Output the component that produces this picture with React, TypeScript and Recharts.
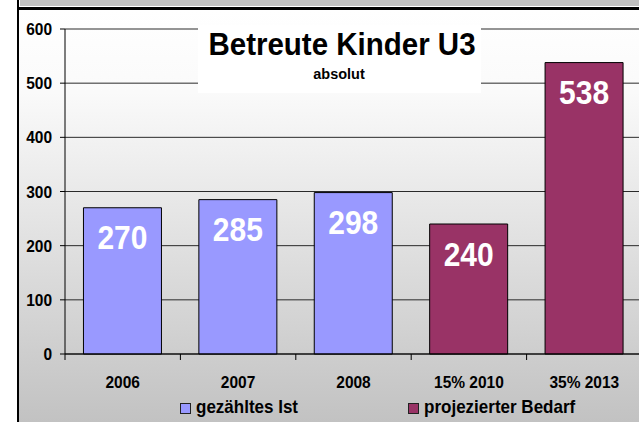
import React from 'react';
import { BarChart, Bar, XAxis, YAxis, CartesianGrid, Legend, LabelList } from 'recharts';

const categories = ['2006', '2007', '2008', '15% 2010', '35% 2013'];
const istValues: (number | null)[] = [270, 285, 298, null, null];
const bedarfValues: (number | null)[] = [null, null, null, 240, 538];
const yTicks = [0, 100, 200, 300, 400, 500, 600];
const seriesNames = ['gezähltes Ist', 'projezierter Bedarf'];
const titleText = 'Betreute Kinder U3';
const subtitleText = 'absolut';

const data = categories.map((c, i) => ({ cat: c, ist: istValues[i], bedarf: bedarfValues[i] }));

const FONT = '"Liberation Sans", Arial, sans-serif';
const SY = 1.08;

const YTick = (props: any) => {
  const { x, y, payload } = props;
  return (
    <g transform={`translate(${x},${y}) scale(1,${SY})`}>
      <text x={0} y={0} dy="0.36em" textAnchor="end" fontFamily={FONT} fontWeight="bold" fontSize={15.5} fill="#000">
        {payload.value}
      </text>
    </g>
  );
};

const XTick = (props: any) => {
  const { x, y, payload, index } = props;
  const off = payload.offset || 0;
  return (
    <g>
      <line x1={x - off} x2={x - off} y1={y} y2={y + 6} stroke="#000" strokeWidth={1} />
      {index === categories.length - 1 && (
        <line x1={x + off} x2={x + off} y1={y} y2={y + 6} stroke="#000" strokeWidth={1} />
      )}
      <g transform={`translate(${x},${y + 34}) scale(1,${SY})`}>
        <text x={0} y={0} textAnchor="middle" fontFamily={FONT} fontWeight="bold" fontSize={15.5} fill="#000">
          {payload.value}
        </text>
      </g>
    </g>
  );
};

const BarLabel = (props: any) => {
  const { x, y, width, value } = props;
  if (value === null || value === undefined) return null;
  return (
    <g transform={`translate(${x + width / 2},${y + 30}) scale(1,${SY})`}>
      <text x={0} y={0} dy="0.36em" textAnchor="middle" fontFamily={FONT} fontWeight="bold" fontSize={30} fill="#fff">
        {value}
      </text>
    </g>
  );
};

const LegendContent = (props: any) => {
  const { payload } = props;
  return (
    <div style={{ display: 'flex', alignItems: 'center', fontFamily: FONT, fontWeight: 'bold', fontSize: 17, color: '#000', lineHeight: '20px' }}>
      {(payload || []).map((p: any, i: number) => (
        <div key={i} style={{ display: 'flex', alignItems: 'center', marginLeft: i === 0 ? 0 : 110 }}>
          <span style={{ display: 'inline-block', width: 9, height: 9, background: p.color, border: '1px solid #222', marginRight: 5 }} />
          <span style={{ display: 'inline-block', transform: `scaleY(${SY})` }}>{p.value}</span>
        </div>
      ))}
    </div>
  );
};

export default function App() {
  return (
    <div style={{ position: 'fixed', left: 0, top: 0, width: 639, height: 422, overflow: 'hidden', background: '#fff' }}>
      <div style={{ position: 'absolute', left: 19, top: 10, width: 620, height: 412, background: 'linear-gradient(#ffffff 0%, #fafafa 20%, #c2c2c2 100%)' }} />
      <div style={{ position: 'absolute', left: 20, top: 0, width: 619, height: 6, background: '#c0c0c0' }} />
      <div style={{ position: 'absolute', left: 17, top: 7, width: 622, height: 3, background: '#000' }} />
      <div style={{ position: 'absolute', left: 17, top: 0, width: 2, height: 422, background: '#000' }} />
      <div style={{ position: 'absolute', left: 0, top: 0 }}>
        <BarChart width={642} height={422} data={data} margin={{ top: 29, right: 0, left: 0, bottom: 18 }} barCategoryGap="16%">
          <CartesianGrid vertical={false} stroke="#2a2a2a" strokeWidth={1} />
          <XAxis dataKey="cat" tickLine={false} tickSize={0} tickMargin={0} axisLine={{ stroke: '#000' }} height={30} tick={<XTick />} interval={0} />
          <YAxis domain={[0, 600]} ticks={yTicks} width={65} tickSize={5} tickMargin={8} tickLine={{ stroke: '#000' }} axisLine={{ stroke: '#000' }} tick={<YTick />} />
          <Legend
            verticalAlign="bottom"
            align="left"
            height={20}
            content={<LegendContent />}
            wrapperStyle={{ left: 180, top: 398, bottom: 'auto', width: 'auto' }}
          />
          <Bar dataKey="ist" name={seriesNames[0]} stackId="a" fill="#9999FF" stroke="#000" strokeWidth={1} isAnimationActive={false}>
            <LabelList dataKey="ist" content={<BarLabel />} />
          </Bar>
          <Bar dataKey="bedarf" name={seriesNames[1]} stackId="a" fill="#993366" stroke="#000" strokeWidth={1} isAnimationActive={false}>
            <LabelList dataKey="bedarf" content={<BarLabel />} />
          </Bar>
        </BarChart>
      </div>
      <div style={{ position: 'absolute', left: 198, top: 25, width: 283, height: 68, background: '#fff' }}>
        <svg width={283} height={68} style={{ display: 'block' }}>
          <g transform={`translate(144,30) scale(1,1.07)`}>
            <text x={0} y={0} textAnchor="middle" fontFamily={FONT} fontWeight="bold" fontSize={29.5} fill="#000">{titleText}</text>
          </g>
          <g transform={`translate(141,54) scale(1,1.07)`}>
            <text x={0} y={0} textAnchor="middle" fontFamily={FONT} fontWeight="bold" fontSize={14.5} fill="#000">{subtitleText}</text>
          </g>
        </svg>
      </div>
    </div>
  );
}
